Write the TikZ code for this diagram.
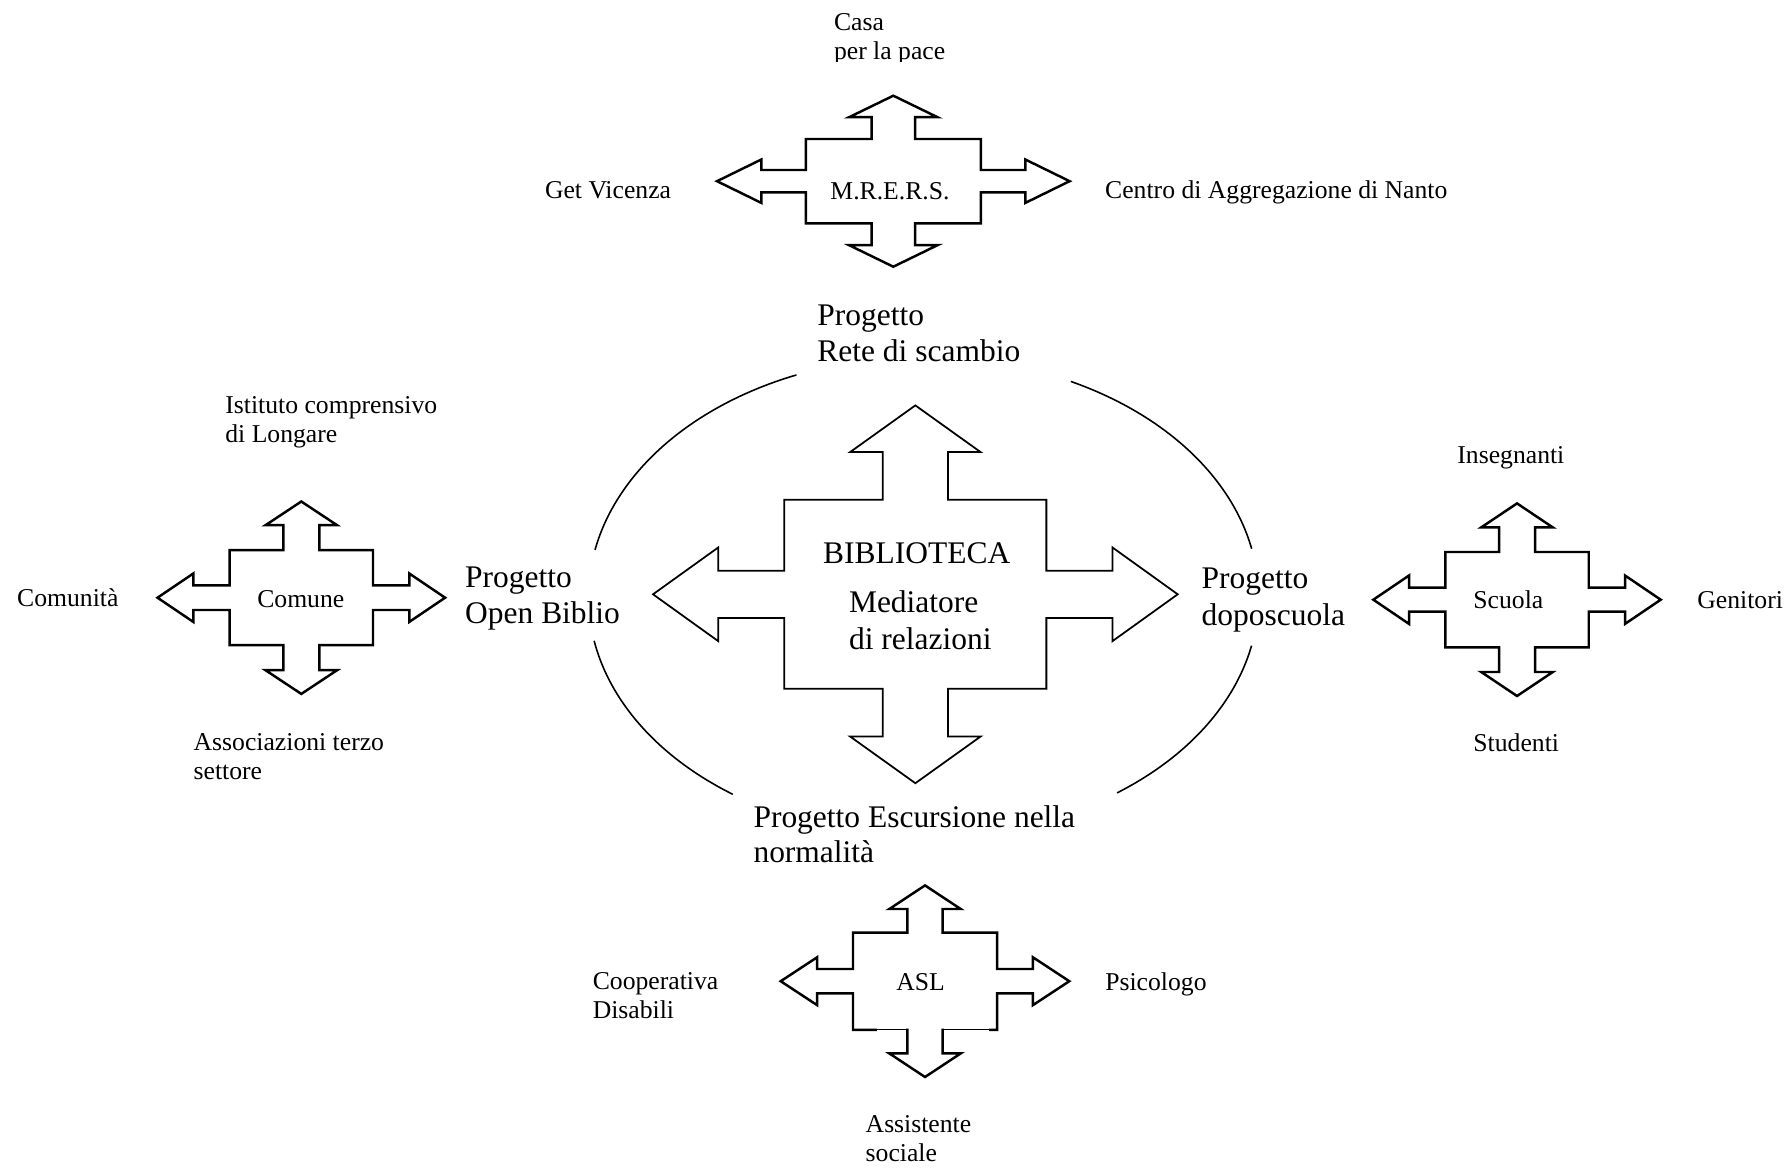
\documentclass[tikz,border=0pt]{standalone}
\usepackage{fontspec}
\setmainfont{Liberation Serif}

% geometry of a four-way block arrow (all lengths in drawing units)
\pgfkeys{/xarrow/.is family, /xarrow/.cd,
  bw/.initial=71.7, bh/.initial=47.7,  % half width / half height of the body
  vs/.initial=18,   vh/.initial=35.8,  % vertical shaft / head half widths
  vb/.initial=72.3, vt/.initial=96.2,  % vertical head base / tip distances
  hs/.initial=12.2, hh/.initial=24.2,  % horizontal shaft / head half heights
  hb/.initial=108,  ht/.initial=144}   % horizontal head base / tip distances
\newcommand\xav[1]{\pgfkeysvalueof{/xarrow/#1}}
\newcommand\lines[2]{\vtop{\hbox{#1}\hbox{#2}}}

\tikzset{
  crossarrow/.pic={
    \draw[line join=miter]
      (0,-\xav{vt}) -- (\xav{vh},-\xav{vb}) -- (\xav{vs},-\xav{vb}) -- (\xav{vs},-\xav{bh})
      -- (\xav{bw},-\xav{bh}) -- (\xav{bw},-\xav{hs}) -- (\xav{hb},-\xav{hs}) -- (\xav{hb},-\xav{hh})
      -- (\xav{ht},0)
      -- (\xav{hb},\xav{hh}) -- (\xav{hb},\xav{hs}) -- (\xav{bw},\xav{hs}) -- (\xav{bw},\xav{bh})
      -- (\xav{vs},\xav{bh}) -- (\xav{vs},\xav{vb}) -- (\xav{vh},\xav{vb})
      -- (0,\xav{vt})
      -- (-\xav{vh},\xav{vb}) -- (-\xav{vs},\xav{vb}) -- (-\xav{vs},\xav{bh}) -- (-\xav{bw},\xav{bh})
      -- (-\xav{bw},\xav{hs}) -- (-\xav{hb},\xav{hs}) -- (-\xav{hb},\xav{hh})
      -- (-\xav{ht},0)
      -- (-\xav{hb},-\xav{hh}) -- (-\xav{hb},-\xav{hs}) -- (-\xav{bw},-\xav{hs}) -- (-\xav{bw},-\xav{bh})
      -- (-\xav{vs},-\xav{bh}) -- (-\xav{vs},-\xav{vb}) -- (-\xav{vh},-\xav{vb}) -- cycle;
  }
}

\begin{document}
\begin{tikzpicture}[x=0.01cm, y=-0.01cm,
  small/.style={font=\fontsize{7.3}{8.3}\selectfont, inner sep=0pt, anchor=base west},
  large/.style={font=\fontsize{8.95}{10.44}\selectfont, inner sep=0pt, anchor=base west},
  smallarrow/.style={line width=0.7pt},
  bigarrow/.style={line width=0.5pt},
  ring/.style={draw=black, line width=0.45pt},
]
\useasboundingbox (0,0) rectangle (1789,1167);

% ---- block arrows ----
\pic[smallarrow, /xarrow/bw=87.5, /xarrow/bh=42.2, /xarrow/vs=21.7, /xarrow/vh=44.2,
     /xarrow/vb=64, /xarrow/vt=85.5, /xarrow/hs=11.2, /xarrow/hh=21.7,
     /xarrow/hb=132, /xarrow/ht=176.3] (mrers) at (893.3,181.2) {crossarrow};
\pic[smallarrow, /xarrow/bh=47.5, /xarrow/vb=72.5, /xarrow/vt=96.2, /xarrow/hs=12.3,
     /xarrow/ht=143.8] (comunearrow) at (301.3,597.7) {crossarrow};
\pic[smallarrow, /xarrow/hs=12, /xarrow/vt=96.3, /xarrow/ht=143.7]
     (scuolaarrow) at (1517,599.7) {crossarrow};
\pic[smallarrow, /xarrow/bw=72, /xarrow/bh=48.6, /xarrow/vs=17.7, /xarrow/vh=35.7,
     /xarrow/vb=72.2, /xarrow/vt=95.8, /xarrow/hh=24, /xarrow/hb=107.8,
     /xarrow/ht=144.3] (aslarrow) at (925,981.2) {crossarrow};
\pic[bigarrow, /xarrow/bw=131, /xarrow/bh=94.5, /xarrow/vs=32.65, /xarrow/vh=65.25,
     /xarrow/vb=142.2, /xarrow/vt=188.9, /xarrow/hs=23.65, /xarrow/hh=46.85,
     /xarrow/hb=197.1, /xarrow/ht=262.35] (central) at (915.35,594.3) {crossarrow};

% thinner stretches of the lower edge of the ASL arrow body
\draw[white, line width=1.3pt] (877,1029.8) -- (905.6,1029.8);
\draw[white, line width=1.3pt] (944.4,1029.8) -- (989,1029.8);
\draw[line width=0.3pt] (876,1029.8) -- (907.3,1029.8);
\draw[line width=0.3pt] (942.7,1029.8) -- (990,1029.8);

% ---- ellipse around the central arrow, open at the four projects ----
\draw[ring] plot[smooth, domain=191.3:247.7, samples=60] ({923.5+335*cos(\x)},{597+240*sin(\x)});
\draw[ring] plot[smooth, domain=296.1:348.4, samples=60] ({923.5+335*cos(\x)},{597+240*sin(\x)});
\draw[ring] plot[smooth, domain=11.7:54.7,   samples=60] ({923.5+335*cos(\x)},{597+240*sin(\x)});
\draw[ring] plot[smooth, domain=124.7:169.5, samples=60] ({923.5+335*cos(\x)},{597+240*sin(\x)});

% ---- labels ----
\begin{scope}
  \clip (800,0) rectangle (1000,61.5);
  \node[small] (casa) at (833.3,30.7) {\lines{Casa}{per la pace}};
\end{scope}
\node[small] (getvicenza) at (544.3,199) {Get Vicenza};
\node[small, anchor=base] (mrerslabel) at (890,200) {M.R.E.R.S.};
\node[small] (centro) at (1104.5,199) {Centro di Aggregazione di Nanto};

\node[large] (rete) at (816.7,325) {\lines{Progetto}{Rete di scambio}};

\node[small] (istituto) at (224.7,413) {\lines{Istituto comprensivo}{di Longare}};
\node[small] (comunita) at (16.5,606) {Comunità};
\node[small, anchor=base] (comune) at (300.8,607.7) {Comune};
\node[small] (associazioni) at (193,750) {\lines{Associazioni terzo}{settore}};
\node[large] (openbiblio) at (464.5,587) {\lines{Progetto}{Open Biblio}};

\node[large, anchor=base] (biblioteca) at (916.7,563.3) {BIBLIOTECA};
\node[large, font=\fontsize{8.95}{10.5}\selectfont] (mediatore) at (848.3,612.3) {\lines{Mediatore}{di relazioni}};

\node[large] (doposcuola) at (1201,588.3) {\lines{Progetto}{doposcuola}};
\node[small] (insegnanti) at (1456.7,463.3) {Insegnanti};
\node[small] (scuola) at (1472.7,608.3) {Scuola};
\node[small] (genitori) at (1696.7,608.3) {Genitori};
\node[small] (studenti) at (1472.7,751.7) {Studenti};

\node[large, font=\fontsize{8.95}{9.87}\selectfont] (escursione) at (752.8,827.3) {\lines{Progetto Escursione nella}{normalità}};

\node[small] (cooperativa) at (592.1,989.5) {\lines{Cooperativa}{Disabili}};
\node[small] (asl) at (895.7,990) {ASL};
\node[small] (psicologo) at (1104.6,990) {Psicologo};
\node[small] (assistente) at (865,1132) {\lines{Assistente}{sociale}};
\end{tikzpicture}
\end{document}
